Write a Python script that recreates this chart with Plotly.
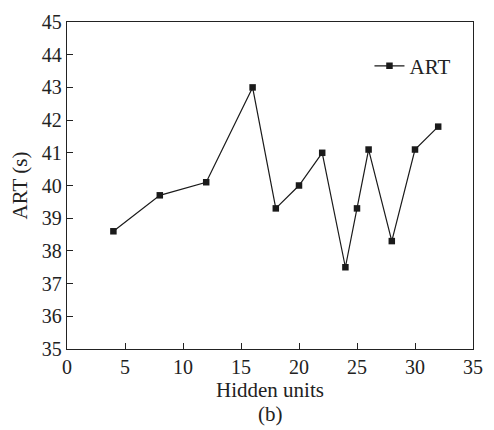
import plotly.graph_objects as go

hidden_units = [4, 8, 12, 16, 18, 20, 22, 24, 25, 26, 28, 30, 32]
art = [38.6, 39.7, 40.1, 43.0, 39.3, 40.0, 41.0, 37.5, 39.3, 41.1, 38.3, 41.1, 41.8]

FONT = "Liberation Serif, Times New Roman, serif"

fig = go.Figure()
fig.add_trace(go.Scatter(
    x=hidden_units, y=art, mode="lines+markers", name="ART",
    line=dict(color="#1a1a1a", width=1.2),
    marker=dict(symbol="square", size=6.5, color="#1a1a1a"),
))

fig.update_layout(
    width=494, height=430,
    margin=dict(l=67, r=11, t=14, b=81),
    paper_bgcolor="white", plot_bgcolor="white",
    font=dict(family=FONT, size=20, color="#222"),
    showlegend=True,
    legend=dict(x=0.745, y=0.865, xanchor="left", yanchor="middle",
                bgcolor="rgba(0,0,0,0)", font=dict(family=FONT, size=21),
                itemwidth=30),
    xaxis=dict(range=[0, 35], tickvals=[0, 5, 10, 15, 20, 25, 30, 35],
               ticks="inside", ticklen=6, tickwidth=1.3, tickcolor="#222",
               showline=True, linecolor="#222", linewidth=1.3, mirror=True,
               showgrid=False, zeroline=False,
               title=dict(text="Hidden units", font=dict(family=FONT, size=21), standoff=5)),
    yaxis=dict(range=[35, 45], tickvals=list(range(35, 46)),
               ticks="inside", ticklen=6, tickwidth=1.3, tickcolor="#222",
               showline=True, linecolor="#222", linewidth=1.3, mirror=True,
               showgrid=False, zeroline=False,
               title=dict(text="ART (s)", font=dict(family=FONT, size=21), standoff=8)),
    annotations=[dict(text="(b)", xref="paper", yref="paper", x=0.5, y=-0.2,
                      xanchor="center", yanchor="middle", showarrow=False,
                      font=dict(family=FONT, size=21))],
)

fig.write_html("out.html")
